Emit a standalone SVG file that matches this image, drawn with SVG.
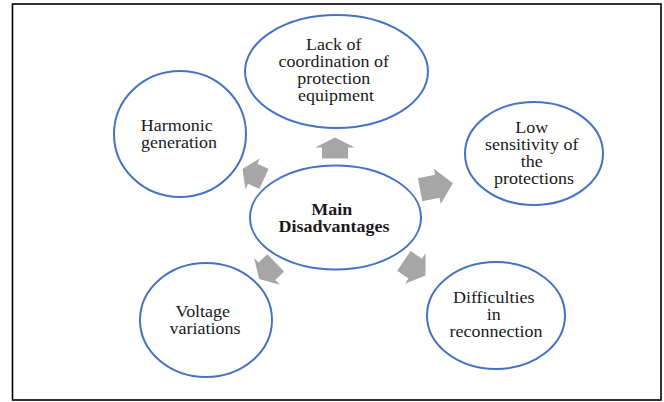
<svg xmlns="http://www.w3.org/2000/svg" xmlns:xlink="http://www.w3.org/1999/xlink" width="664" height="402" viewBox="0 0 664 402">
  <style>
    .node { fill: #ffffff; stroke: #4472C4; stroke-width: 2; }
    .lbl { font-family: "Liberation Serif", "Times New Roman", serif; font-size: 16.5px; fill: #1a1a1a; text-anchor: middle; }
    .bold { font-weight: bold; }
    .arrow { fill: #A6A6A6; stroke: none; }
  </style>
  <defs>
    <path id="arr" d="M10.5,0 L0.5,20 L0.5,13 L-10.5,13 L-10.5,-13 L0.5,-13 L0.5,-20 Z"/>
  </defs>
  <rect x="12.5" y="4" width="648.5" height="396" fill="#ffffff" stroke="#000000" stroke-width="1.6"/>

  <g id="connectors">
    <use xlink:href="#arr" class="arrow" transform="translate(335,148) rotate(-90)"/>
    <use xlink:href="#arr" class="arrow" transform="translate(436.5,186.5) rotate(-11) scale(1.59,0.9)"/>
    <use xlink:href="#arr" class="arrow" transform="translate(414.7,268.2) rotate(34) scale(1.24,0.92)"/>
    <use xlink:href="#arr" class="arrow" transform="translate(267.4,270.9) rotate(136) scale(1.1,0.93)"/>
    <use xlink:href="#arr" class="arrow" transform="translate(253.2,174) rotate(205) scale(1.13,0.85)"/>
  </g>

  <g id="node-main">
    <ellipse class="node" cx="335.5" cy="217.5" rx="85.5" ry="52"/>
    <text class="lbl bold" transform="matrix(1.09,0,0,1,334,0)">
      <tspan x="0" y="215">Main</tspan>
      <tspan x="0" y="232">Disadvantages</tspan>
    </text>
  </g>

  <g id="node-coordination">
    <ellipse class="node" cx="336.5" cy="71.5" rx="91.5" ry="56.5"/>
    <text class="lbl" transform="matrix(1.09,0,0,1,336,0)">
      <tspan x="0" y="50.5">Lack of</tspan>
      <tspan x="0" y="67.5">coordination of</tspan>
      <tspan x="0" y="84.5">protection</tspan>
      <tspan x="0" y="101.5">equipment</tspan>
    </text>
  </g>

  <g id="node-harmonic">
    <ellipse class="node" cx="180" cy="134" rx="66" ry="63"/>
    <text class="lbl" transform="matrix(1.09,0,0,1,179,0)">
      <tspan x="0" y="131.5">Harmonic</tspan>
      <tspan x="0" y="148.5">generation</tspan>
    </text>
  </g>

  <g id="node-sensitivity">
    <ellipse class="node" cx="534" cy="153.5" rx="69" ry="51.5"/>
    <text class="lbl" transform="matrix(1.09,0,0,1,534,0)">
      <tspan x="0" y="133.5">Low</tspan>
      <tspan x="0" y="150.5">sensitivity of</tspan>
      <tspan x="0" y="167.5">the</tspan>
      <tspan x="0" y="184.5">protections</tspan>
    </text>
  </g>

  <g id="node-voltage">
    <ellipse class="node" cx="206" cy="320" rx="66" ry="57"/>
    <text class="lbl" transform="matrix(1.09,0,0,1,205,0)">
      <tspan x="0" y="317">Voltage</tspan>
      <tspan x="0" y="334">variations</tspan>
    </text>
  </g>

  <g id="node-reconnection">
    <ellipse class="node" cx="496" cy="315.5" rx="69" ry="53.5"/>
    <text class="lbl" transform="matrix(1.09,0,0,1,496,0)">
      <tspan x="0" y="303">Difficulties</tspan>
      <tspan x="0" y="320">in</tspan>
      <tspan x="0" y="337">reconnection</tspan>
    </text>
  </g>
</svg>
